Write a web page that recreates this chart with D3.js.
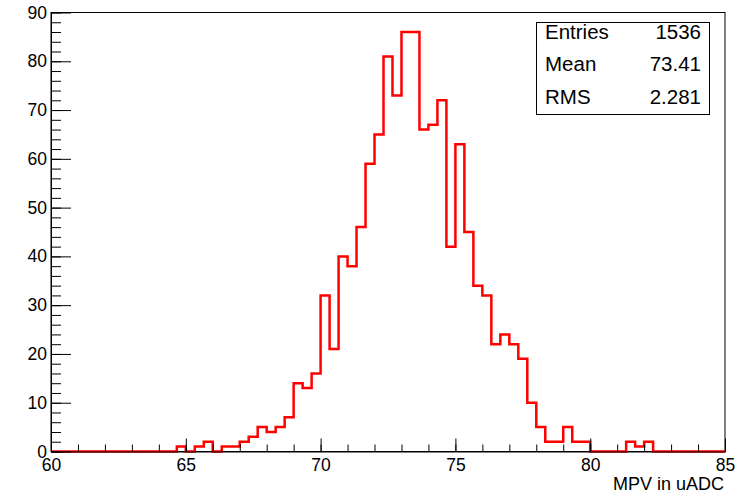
<!DOCTYPE html>
<html><head><meta charset="utf-8"/>
<script src="https://d3js.org/d3.v7.min.js"></script>
<style>
  body { margin: 0; padding: 0; background: #fff; }
  svg { display: block; font-family: 'Liberation Sans', Arial, sans-serif; }
</style>
</head>
<body>
<div id="chart"></div>
<script>
// histogram: 75 bins of 1/3 uADC between 60 and 85
const xRange = [60, 85];
const counts = [
  0, 0, 0, 0, 0, 0, 0, 0, 0, 0, 0, 0, 0, 0,
  1, 0, 1, 2, 0, 1, 1, 2, 3, 5, 4, 5, 7, 14, 13, 16,
  32, 21, 40, 38, 46, 59, 65, 81, 73, 86, 86, 66, 67, 72,
  42, 63, 45, 34, 32, 22, 24, 22, 19, 10, 5, 2, 2, 5, 2, 2,
  0, 0, 0, 0, 2, 1, 2,
  0, 0, 0, 0, 0, 0, 0, 0
];
const xTicks = [60, 65, 70, 75, 80, 85];
const yTicks = [0, 10, 20, 30, 40, 50, 60, 70, 80, 90];
const statLabels = ["Entries", "Mean", "RMS"];
const statValues = ["1536", "73.41", "2.281"];

const W = 742, H = 494;
const padL = 51, padR = 725, padT = 12.5, padB = 451.5;

const svg = d3.select("#chart").append("svg")
  .attr("width", W).attr("height", H);

const x = d3.scaleLinear().domain(xRange).range([padL, padR]);
const y = d3.scaleLinear().domain([0, 90]).range([padB, padT]);

// frame
svg.append("rect")
  .attr("x", padL).attr("y", padT)
  .attr("width", padR - padL).attr("height", padB - padT)
  .attr("fill", "none").attr("stroke", "#000").attr("stroke-width", 1);

// histogram outline
const binW = (xRange[1] - xRange[0]) / counts.length;
let d = `M${x(xRange[0])},${y(0)}`;
counts.forEach((c, i) => {
  d += `V${y(c)}H${x(xRange[0] + (i + 1) * binW)}`;
});
d += `V${y(0)}`;
svg.append("path")
  .attr("d", d)
  .attr("fill", "none")
  .attr("stroke", "#ff0000")
  .attr("stroke-width", 2.5)
  .attr("stroke-linejoin", "miter");

// x axis: minor ticks every 1, major every 5
svg.append("g")
  .attr("transform", `translate(0,${padB})`)
  .call(d3.axisBottom(x).tickValues(d3.range(60, 86, 1)).tickSize(-7).tickFormat(""))
  .call(g => g.select(".domain").remove());
svg.append("g")
  .attr("transform", `translate(0,${padB})`)
  .call(d3.axisBottom(x).tickValues(xTicks).tickSizeInner(-13).tickSizeOuter(0).tickPadding(7))
  .call(g => g.select(".domain").attr("stroke", "#000"))
  .call(g => g.selectAll("text").attr("font-size", 17.5).attr("fill", "#000")
    .attr("font-family", "'Liberation Sans', Arial, sans-serif"));

// y axis: minor ticks every 2, major every 10
svg.append("g")
  .attr("transform", `translate(${padL},0)`)
  .call(d3.axisLeft(y).tickValues(d3.range(0, 91, 2)).tickSize(-10).tickFormat(""))
  .call(g => g.select(".domain").remove());
svg.append("g")
  .attr("transform", `translate(${padL},0)`)
  .call(d3.axisLeft(y).tickValues(yTicks).tickSizeInner(-20).tickSizeOuter(0).tickPadding(4))
  .call(g => g.select(".domain").attr("stroke", "#000"))
  .call(g => g.selectAll("text").attr("font-size", 17.5).attr("fill", "#000")
    .attr("font-family", "'Liberation Sans', Arial, sans-serif"));

// axis title
svg.append("text")
  .attr("x", padR - 1).attr("y", 490)
  .attr("text-anchor", "end")
  .attr("font-size", 18)
  .text("MPV in uADC");

// stats box
svg.append("rect")
  .attr("x", 536.5).attr("y", 22.5)
  .attr("width", 173).attr("height", 92)
  .attr("fill", "#fff").attr("stroke", "#000").attr("stroke-width", 1);
statLabels.forEach((s, i) => {
  const by = 39 + i * 32.3;
  svg.append("text").attr("x", 545).attr("y", by)
    .attr("font-size", 20.5).text(s);
  svg.append("text").attr("x", 701).attr("y", by)
    .attr("text-anchor", "end").attr("font-size", 20.5).text(statValues[i]);
});
</script>
</body></html>
